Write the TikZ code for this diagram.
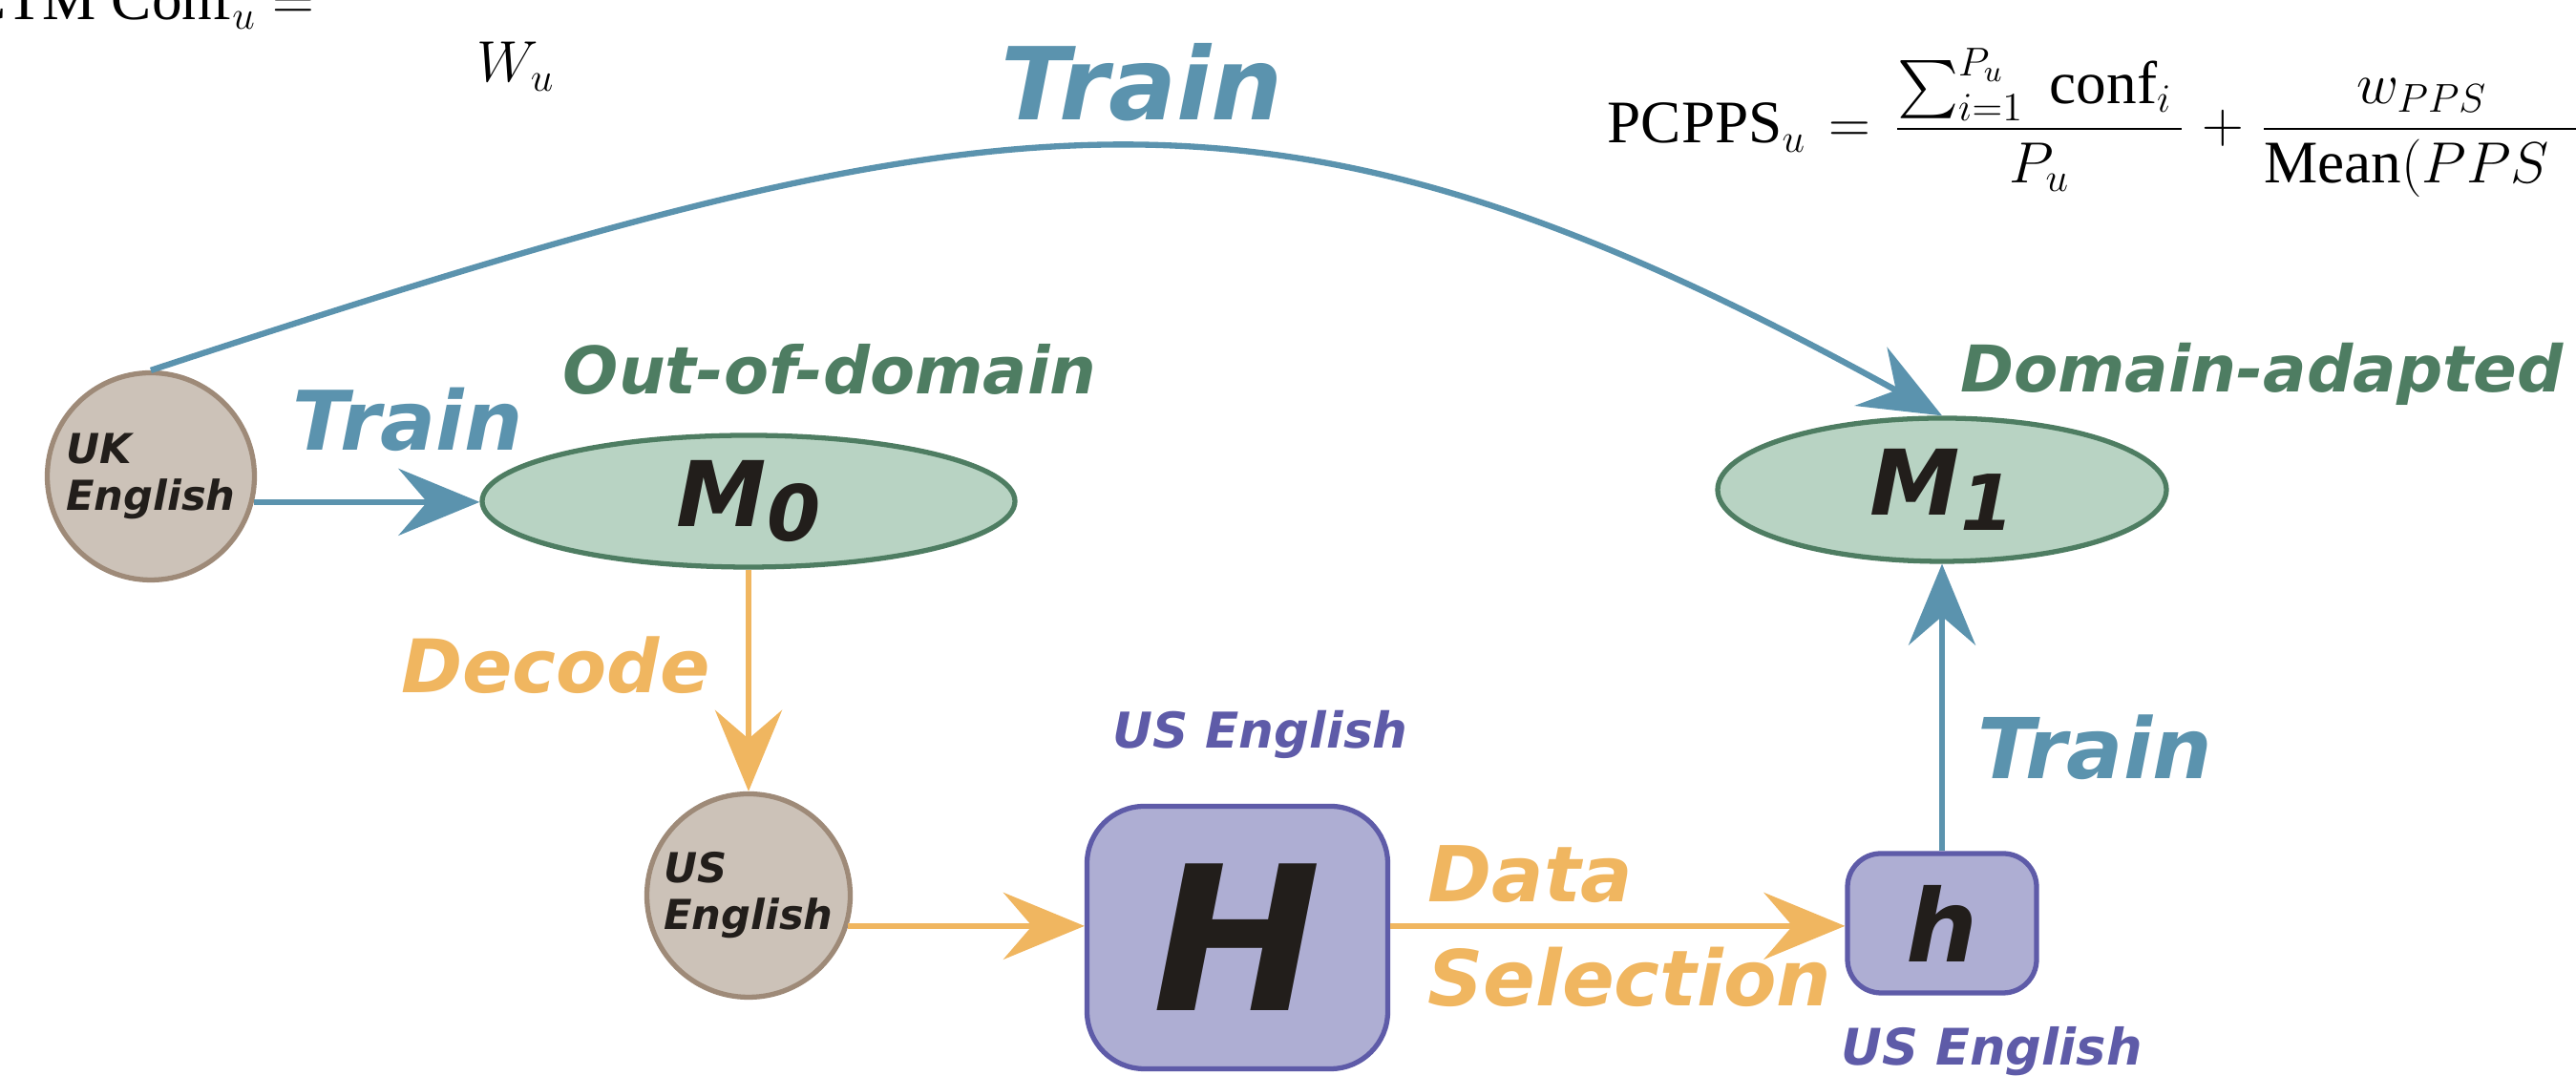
\documentclass[tikz,border=0pt]{standalone}
\usepackage{exscale}
\usepackage{fontspec}
\setmainfont{Liberation Serif}
\usetikzlibrary{arrows.meta,shapes.geometric}
\newfontfamily\lblfont{DejaVu Sans}
\newcommand{\lblsize}[2]{\lblfont\bfseries\itshape\fontsize{#1}{#2}\selectfont}
\definecolor{trainblue}{RGB}{91,147,174}
\definecolor{modelgreen}{RGB}{78,125,98}
\definecolor{modelfill}{RGB}{184,211,195}
\definecolor{decodeorange}{RGB}{240,182,96}
\definecolor{hypfill}{RGB}{174,174,211}
\definecolor{hypline}{RGB}{94,91,168}
\definecolor{datafill}{RGB}{204,194,184}
\definecolor{dataline}{RGB}{158,138,120}
\definecolor{inkblack}{RGB}{34,30,27}
\begin{document}
\begin{tikzpicture}[
  data/.style={circle,draw=dataline,line width=1.5pt,fill=datafill,inner sep=0pt,align=left,text=inkblack,font=\lblsize{12.3}{14}},
  model/.style={ellipse,draw=modelgreen,line width=1.5pt,fill=modelfill,inner sep=0pt,text=inkblack,font=\lblsize{27}{30}},
  hyp/.style={rectangle,draw=hypline,line width=1.5pt,fill=hypfill,inner sep=0pt,text=inkblack},
  flow/.style={line width=1.8pt,-{Stealth[length=8.5mm,width=7mm,inset=3mm]}},
  train/.style={flow,draw=trainblue},
  decode/.style={flow,draw=decodeorange},
  formula/.style={inner sep=0pt,font=\fontsize{18}{22}\selectfont}]
\path[use as bounding box,clip] (0,0) rectangle (26.98,11.27);
\node[formula,anchor=base east] (ctm) at (3.30,11.06) {$\mathrm{CTM\ Conf}_u =$};
\node[formula,anchor=base west] (wu) at (4.99,10.41) {$W_u$};
\node[formula,anchor=base west] (pcpps) at (16.83,9.77) {$\displaystyle \mathrm{PCPPS}_u \mkern2mu= \mkern2mu\frac{\sum_{i=1}^{P_u}\;\mathrm{conf}_i\mkern3mu}{P_u} \mkern1mu+\mkern1mu \frac{w_{PPS}\hphantom{\cdot P_u\,}}{\mathrm{Mean}(PPS\hphantom{xxx})}$};
\node[data,minimum size=2.17cm] (uk) at (1.58,6.28) {UK\\English};
\node[model,minimum width=5.58cm,minimum height=1.38cm] (m0) at (7.84,6.02) {M\raisebox{-0.3ex}{\fontsize{23}{23}\selectfont 0}};
\node[model,minimum width=4.70cm,minimum height=1.50cm] (m1) at (20.34,6.14) {M\raisebox{-0.3ex}{\fontsize{23}{23}\selectfont 1}};
\node[data,minimum size=2.13cm] (us) at (7.84,1.89) {US\\English};
\node[hyp,minimum width=3.15cm,minimum height=2.75cm,rounded corners=0.6cm,font=\lblsize{60}{60}] (bigH) at (12.96,1.45) {H};
\node[hyp,minimum width=1.98cm,minimum height=1.46cm,rounded corners=0.35cm,font=\lblsize{30}{30}] (smallh) at (20.34,1.60) {h};
\node[text=trainblue,font=\lblsize{30}{30}] (trainTop) at (11.96,10.41) {Train};
\node[text=trainblue,font=\lblsize{24.5}{26}] (trainLeft) at (4.27,6.88) {Train};
\node[text=trainblue,font=\lblsize{25}{26}] (trainRight) at (21.94,3.44) {Train};
\node[text=modelgreen,font=\lblsize{19.5}{21}] (outdom) at (8.69,7.40) {Out-of-domain};
\node[text=modelgreen,font=\lblsize{19.2}{21}] (adapted) at (23.69,7.35) {Domain-adapted};
\node[text=decodeorange,font=\lblsize{22}{24}] (decodeLbl) at (5.82,4.30) {Decode};
\node[text=decodeorange,font=\lblsize{23}{31},anchor=west,align=left] (selLbl) at (14.83,1.57) {Data\\Selection};
\node[text=hypline,font=\lblsize{14.7}{16}] (usH) at (13.20,3.58) {US English};
\node[text=hypline,font=\lblsize{15}{16}] (ush) at (20.86,0.26) {US English};
\draw[train] (uk.-14) -- (uk.-14 -| m0.west);
\draw[train] (uk.north) .. controls (10.55,10.34) and (13.26,10.82) .. (m1.north);
\draw[train] (smallh.north) -- (m1.south);
\draw[decode] (m0.south) -- (us.north);
\draw[decode] (us.-17) -- (us.-17 -| bigH.west);
\draw[decode] (bigH.east |- us.-17) -- (us.-17 -| smallh.west);
\end{tikzpicture}
\end{document}
